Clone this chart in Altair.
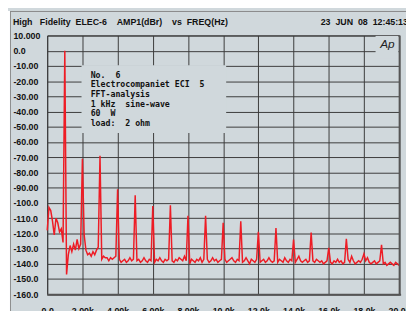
import altair as alt
import pandas as pd

# ---------------- data ----------------
# noise floor, one value every 100 Hz from 0 Hz to 20 kHz (dB)
noise_db = [
    -118, -103, -105, -112, -121, -110, -113, -119, -117, -126,
    -128, -147, -134, -128, -132, -127, -131, -124, -130, -127,
    -130, -121, -131, -134, -133, -135, -132, -134, -131, -129,
    -133, -137, -135, -136, -136, -138, -136, -137, -136, -135,
    -137, -137, -139, -138, -137, -139, -138, -136, -138, -137,
    -137, -138, -137, -139, -138, -136, -138, -139, -137, -138,
    -138, -139, -137, -138, -136, -138, -139, -137, -138, -137,
    -137, -138, -139, -137, -138, -136, -137, -138, -135, -138,
    -138, -140, -137, -138, -139, -137, -138, -136, -139, -137,
    -138, -137, -139, -138, -136, -138, -137, -139, -138, -137,
    -138, -137, -139, -138, -137, -136, -138, -139, -137, -138,
    -138, -139, -138, -136, -138, -140, -137, -138, -139, -137,
    -138, -139, -138, -137, -139, -138, -136, -138, -139, -138,
    -138, -139, -137, -138, -139, -136, -138, -139, -137, -138,
    -138, -139, -137, -135, -138, -139, -138, -137, -139, -138,
    -138, -138, -139, -137, -138, -139, -138, -140, -139, -138,
    -139, -139, -140, -138, -139, -137, -139, -138, -140, -139,
    -138, -137, -139, -135, -138, -140, -139, -138, -139, -137,
    -139, -138, -136, -139, -140, -139, -138, -140, -139, -138,
    -139, -140, -139, -141, -140, -139, -140, -141, -139, -140,
    -141,
]
noise_step_hz = 100

# harmonic peaks
harmonic_khz = [1, 2, 3, 4, 5, 6, 7, 8, 9, 10, 11, 12, 13, 14, 15, 16, 17, 18, 19]
harmonic_db = [0, -71, -69, -91, -95, -102, -101.5, -108.5, -108.5, -113,
               -112, -119, -116.5, -124, -119.5, -129.5, -123.5, -133.5, -127.5]

y_ticks = [10, 0, -10, -20, -30, -40, -50, -60, -70, -80, -90,
           -100, -110, -120, -130, -140, -150, -160]
y_tick_labels = ["10.000", "0.0", "-10.00", "-20.00", "-30.00", "-40.00", "-50.00",
                 "-60.00", "-70.00", "-80.00", "-90.00", "-100.0", "-110.0",
                 "-120.0", "-130.0", "-140.0", "-150.0", "-160.0"]
x_ticks = [0, 2000, 4000, 6000, 8000, 10000, 12000, 14000, 16000, 18000, 20000]
x_tick_labels = ["0.0", "2.00k", "4.00k", "6.00k", "8.00k", "10.0k",
                 "12.0k", "14.0k", "16.0k", "18.0k", "20.0k"]

NB = "\u00a0"
title_left = NB.join(["High", "", "", "Fidelity", "", "ELEC-6", "", "", "", "AMP1(dBr)",
                      "", "", "", "vs", "", "FREQ(Hz)"])
title_right = NB.join(["23", "", "JUN", "", "08", "", "12:45:13"])
note_lines = [
    "No." + NB * 2 + "6",
    "Electrocompaniet" + NB + "ECI" + NB * 2 + "5",
    "FFT-analysis",
    "1" + NB + "kHz" + NB * 2 + "sine-wave",
    "60" + NB * 2 + "W",
    "load:" + NB * 2 + "2" + NB + "ohm",
]
logo_text = "Ap"

# ---------------- build table ----------------
peaks = {int(k * 1000): v for k, v in zip(harmonic_khz, harmonic_db)}
rows = []
for i, v in enumerate(noise_db):
    f = i * noise_step_hz
    rows.append({"freq": f, "level": peaks.get(f, v)})
df = pd.DataFrame(rows)

BG = "#d0d8dc"
GRID = "#3a3a3a"
RED = "#ee1c25"

y_expr = "[" + ",".join("'%s'" % s for s in y_tick_labels) + "][round((10 - datum.value) / 10)]"
x_expr = "[" + ",".join("'%s'" % s for s in x_tick_labels) + "][round(datum.value / 2000)]"

xaxis = alt.Axis(values=x_ticks, labelExpr=x_expr, grid=True, gridColor=GRID, gridWidth=1,
                 gridOpacity=1, ticks=False, tickSize=0, domain=False, title=None,
                 labelFont="Liberation Sans", labelFontWeight="bold", labelFontSize=9,
                 labelColor="#111111", labelPadding=13, labelFlush=False,
                 labelOverlap=False, labelBound=False)
yaxis = alt.Axis(values=y_ticks, labelExpr=y_expr, grid=True, gridColor=GRID, gridWidth=1,
                 gridOpacity=1, ticks=False, tickSize=0, domain=False, title=None,
                 labelFont="Liberation Sans", labelFontWeight="bold", labelFontSize=9,
                 labelColor="#111111", labelPadding=35, labelAlign="left",
                 labelBaseline="middle", labelFlush=False, labelOverlap=False,
                 labelBound=False)

xs = alt.Scale(domain=[0, 20000], nice=False, zero=False)
ys = alt.Scale(domain=[-160, 10], nice=False, zero=False)

line = alt.Chart(df).mark_line(color=RED, strokeWidth=1.5).encode(
    x=alt.X("freq:Q", scale=xs, axis=xaxis),
    y=alt.Y("level:Q", scale=ys, axis=yaxis),
)

one = pd.DataFrame({"k": [0]})

covers = alt.Chart(pd.DataFrame({
    "freq": [1950, 18660], "freq2": [10170, 19960],
    "level": [-9.6, 9.7], "level2": [-54, -5],
})).mark_rect(color=BG).encode(
    x=alt.X("freq:Q", scale=xs, axis=xaxis), x2="freq2:Q",
    y=alt.Y("level:Q", scale=ys, axis=yaxis), y2="level2:Q",
)

right_border = alt.Chart(one).mark_rule(color="#555555", strokeWidth=2).encode(
    x=alt.value(359.5), y=alt.value(0), y2=alt.value(265))
bottom_border = alt.Chart(one).mark_rule(color="#555555", strokeWidth=2).encode(
    y=alt.value(264.5), x=alt.value(0), x2=alt.value(361))
panel_left = alt.Chart(one).mark_rule(color="#888888", strokeWidth=1).encode(
    x=alt.value(-37.5), y=alt.value(-25), y2=alt.value(290))
panel_top = alt.Chart(one).mark_rule(color="#888888", strokeWidth=1).encode(
    y=alt.value(-24.5), x=alt.value(-37.5), x2=alt.value(370))
white_strip = alt.Chart(one).mark_rect(color="white").encode(
    x=alt.value(-40), x2=alt.value(-38), y=alt.value(-25), y2=alt.value(290))

txt_left = alt.Chart(one).mark_text(
    font="Liberation Sans", fontWeight="bold", fontSize=9, color="#111111",
    align="left", baseline="middle").encode(
    x=alt.value(-35), y=alt.value(-13.5), text=alt.value(title_left))
txt_right = alt.Chart(one).mark_text(
    font="Liberation Sans", fontWeight="bold", fontSize=9, color="#111111",
    align="left", baseline="middle").encode(
    x=alt.value(279), y=alt.value(-13.5), text=alt.value(title_right))
note = alt.Chart(one).mark_text(
    font="DejaVu Sans Mono", fontWeight="bold", fontSize=8.4, color="#111111",
    align="left", baseline="top", lineHeight=9.9).encode(
    x=alt.value(44.3), y=alt.value(36), text=alt.value(note_lines))
logo = alt.Chart(one).mark_text(
    font="Liberation Sans", fontStyle="italic", fontSize=12, color="#222222",
    align="center", baseline="middle").encode(
    x=alt.value(347), y=alt.value(8.5), text=alt.value(logo_text))

chart = alt.layer(
    line, covers, right_border, bottom_border, panel_left, panel_top, white_strip,
    txt_left, txt_right, note, logo,
).properties(
    width=359, height=264,
    autosize=alt.AutoSizeParams(type="none"),
    padding={"left": 40, "top": 25, "right": 7, "bottom": 14},
).configure(background=BG).configure_view(stroke="#333333", strokeWidth=1)

chart.save("out.html", embed_options={"renderer": "svg", "actions": False})
